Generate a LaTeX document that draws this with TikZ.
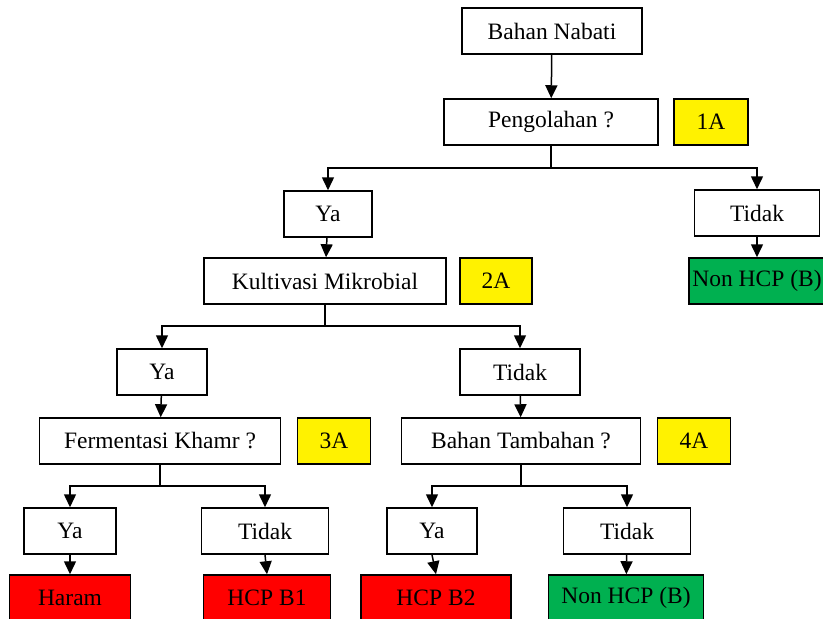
\documentclass[tikz,border=0pt]{standalone}
\usepackage{fontspec}
\setmainfont{Liberation Serif}
\usetikzlibrary{arrows.meta}
\definecolor{hijau}{HTML}{00B050}
\begin{document}
\begin{tikzpicture}[x=1pt,y=-1pt,
  box/.style={draw,line width=1.5pt,minimum height=46pt,inner sep=0pt,font=\fontsize{23.5}{26}\selectfont},
  kode/.style={box,fill=yellow},
  haram/.style={box,fill=red},
  halal/.style={box,fill=hijau},
  arr/.style={line width=1.5pt,-{Triangle[length=13pt,width=12pt]}}]
\useasboundingbox (0,0) rectangle (823,619);
\node[box,minimum width=180pt] (nabati) at (552,31) {Bahan Nabati};
\node[box,minimum width=214pt] (olah) at (551,122) {Pengolahan ?};
\node[kode,minimum width=74pt] (k1) at (711,122) {1A};
\node[box,minimum width=88pt] (ya1) at (328,214) {Ya};
\node[box,minimum width=125pt] (tidak1) at (757,213) {Tidak};
\node[halal,minimum width=136pt] (non1) at (757,281) {Non HCP (B)};
\node[box,minimum width=242pt] (kultur) at (325,281) {Kultivasi Mikrobial};
\node[kode,minimum width=72pt] (k2) at (496,281) {2A};
\node[box,minimum width=90pt] (ya2) at (162,372) {Ya};
\node[box,minimum width=120pt] (tidak2) at (520,372) {Tidak};
\node[box,minimum width=241pt] (khamr) at (160,441) {Fermentasi Khamr ?};
\node[kode,minimum width=73pt] (k3) at (334,441) {3A};
\node[box,minimum width=239pt] (tambah) at (521,441) {Bahan Tambahan ?};
\node[kode,minimum width=73pt] (k4) at (694,441) {4A};
\node[box,minimum width=92pt] (ya3) at (70,531) {Ya};
\node[box,minimum width=127pt] (tidak3) at (265,531) {Tidak};
\node[box,minimum width=90pt] (ya4) at (432,531) {Ya};
\node[box,minimum width=127pt] (tidak4) at (627,531) {Tidak};
\node[haram,minimum width=121pt] (haram) at (70,598) {Haram};
\node[haram,minimum width=127pt] (b1) at (267,598) {HCP B1};
\node[haram,minimum width=150pt] (b2) at (436,598) {HCP B2};
\node[halal,minimum width=155pt] (non2) at (626,598) {Non HCP (B)};
\coordinate (j1) at (551,168);
\coordinate (j2) at (325,326);
\coordinate (j3) at (160,486);
\coordinate (j4) at (521,486);
\path[draw,arr] (nabati) -- (olah);
\path[draw,arr] (olah) -- (j1) -| (ya1);
\path[draw,arr] (j1) -| (tidak1);
\path[draw,arr] (tidak1.south) -- (non1.north);
\path[draw,arr] (ya1) -- (kultur);
\path[draw,arr] (kultur) -- (j2) -| (ya2);
\path[draw,arr] (j2) -| (tidak2);
\path[draw,arr] (ya2) -- (khamr);
\path[draw,arr] (tidak2) -- (tambah);
\path[draw,arr] (khamr) -- (j3) -| (ya3);
\path[draw,arr] (j3) -| (tidak3);
\path[draw,arr] (tambah) -- (j4) -| (ya4);
\path[draw,arr] (j4) -| (tidak4);
\path[draw,arr] (ya3) -- (haram);
\path[draw,arr] (tidak3.south) -- (b1.north);
\path[draw,arr] (ya4.south) -- (b2.north);
\path[draw,arr] (tidak4) -- (non2);
\end{tikzpicture}
\end{document}
